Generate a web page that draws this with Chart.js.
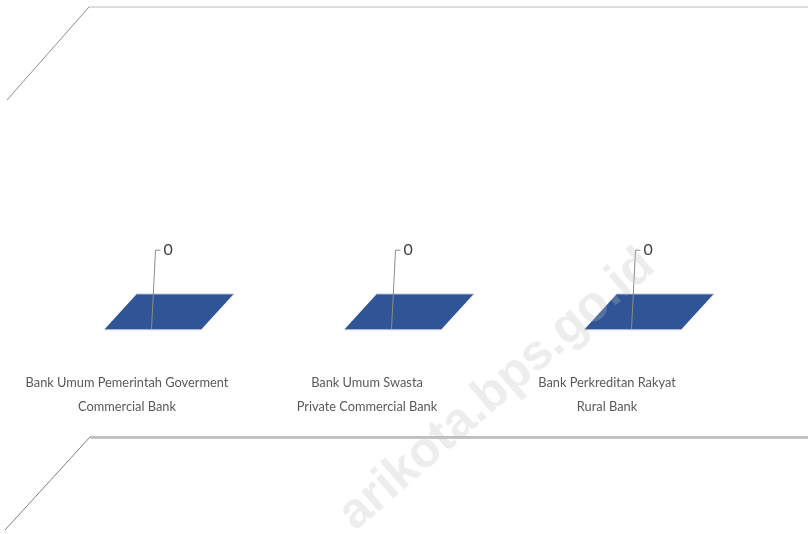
<!DOCTYPE html>
<html>
<head>
<meta charset="utf-8">
<script src="https://cdn.jsdelivr.net/npm/chart.js@4.4.1/dist/chart.umd.min.js"></script>
<style>
  html, body { margin: 0; padding: 0; background: #fff; }
  #wrap { width: 808px; height: 534px; position: relative; }
</style>
</head>
<body>
<div id="wrap"><canvas id="bankChart"></canvas></div>
<script>
// Bank counts by type - all zero in the source table
const categories = [
    ['Bank Umum Pemerintah Goverment', 'Commercial Bank'],
    ['Bank Umum Swasta', 'Private Commercial Bank'],
    ['Bank Perkreditan Rakyat', 'Rural Bank']
];
const bankCounts = [0, 0, 0];
const watermarkText = 'arikota.bps.go.id';

const FONT = 'Lato, "Open Sans", sans-serif';
const BAR_COLOR = '#2F5597';
const DEPTH = { dx: 32, dy: -35 };   // 3D depth of each bar
const SHIFT = 26;                     // bars sit a bit right of the labels

// draws the fake 3D look: frame, boxes, leader labels, watermark
const threeD = {
    id: 'threeD',
    beforeDatasetsDraw(chart) {
        const ctx = chart.ctx;
        const area = chart.chartArea;
        ctx.save();
        // back wall top edge
        ctx.strokeStyle = '#8c8c8c';
        ctx.lineWidth = 1;
        ctx.beginPath();
        ctx.moveTo(area.left, area.top + 93);
        ctx.lineTo(area.left + 82, area.top);
        ctx.stroke();
        ctx.strokeStyle = '#dcdcdc';
        ctx.lineWidth = 2;
        ctx.beginPath();
        ctx.moveTo(area.left + 82, area.top);
        ctx.lineTo(chart.width, area.top);
        ctx.stroke();
        // floor back edge
        const floorY = 437;
        ctx.strokeStyle = '#7f7f7f';
        ctx.lineWidth = 1;
        ctx.beginPath();
        ctx.moveTo(area.left - 2, floorY + 93);
        ctx.lineTo(area.left + 83, floorY);
        ctx.lineTo(chart.width, floorY);
        ctx.stroke();
        ctx.strokeStyle = '#c8c8c8';
        ctx.beginPath();
        ctx.moveTo(area.left + 84, floorY + 1.5);
        ctx.lineTo(chart.width, floorY + 1.5);
        ctx.stroke();
        ctx.restore();
    },
    afterDatasetsDraw(chart) {
        const ctx = chart.ctx;
        const meta = chart.getDatasetMeta(0);
        const values = chart.data.datasets[0].data;
        ctx.save();
        meta.data.forEach((bar, i) => {
            const p = bar.getProps(['x', 'y', 'base', 'width'], true);
            const left = p.x - p.width / 2 + SHIFT;
            const right = left + p.width;
            const top = Math.min(p.y, p.base);
            const bottom = Math.max(p.y, p.base);
            // front face
            ctx.fillStyle = BAR_COLOR;
            ctx.fillRect(left, top, p.width, bottom - top);
            // side face
            ctx.fillStyle = '#24447c';
            ctx.beginPath();
            ctx.moveTo(right, bottom);
            ctx.lineTo(right + DEPTH.dx, bottom + DEPTH.dy);
            ctx.lineTo(right + DEPTH.dx, top + DEPTH.dy);
            ctx.lineTo(right, top);
            ctx.closePath();
            ctx.fill();
            // top face
            ctx.fillStyle = BAR_COLOR;
            ctx.beginPath();
            ctx.moveTo(left, top);
            ctx.lineTo(right, top);
            ctx.lineTo(right + DEPTH.dx, top + DEPTH.dy);
            ctx.lineTo(left + DEPTH.dx, top + DEPTH.dy);
            ctx.closePath();
            ctx.fill();
            ctx.strokeStyle = 'rgba(160,176,205,0.9)';
            ctx.lineWidth = 1;
            ctx.beginPath();
            ctx.moveTo(left, top + 0.5);
            ctx.lineTo(right, top + 0.5);
            ctx.stroke();
            ctx.strokeStyle = 'rgba(120,140,180,0.8)';
            ctx.beginPath();
            ctx.moveTo(left + DEPTH.dx, top + DEPTH.dy);
            ctx.lineTo(right + DEPTH.dx, top + DEPTH.dy);
            ctx.stroke();

            // leader line + value label
            const lx = left + 47;
            const ly = top - 79;
            ctx.strokeStyle = '#8c8c8c';
            ctx.lineWidth = 1;
            ctx.beginPath();
            ctx.moveTo(lx, top);
            ctx.lineTo(lx + 4, ly);
            ctx.lineTo(lx + 9, ly);
            ctx.stroke();
            ctx.fillStyle = '#404040';
            ctx.font = '16px ' + FONT;
            ctx.textAlign = 'left';
            ctx.textBaseline = 'middle';
            ctx.fillText(String(values[i]), lx + 12, ly);
        });
        ctx.restore();
    },
    afterDraw(chart) {
        const ctx = chart.ctx;
        ctx.save();
        ctx.translate(497, 390);
        ctx.rotate(-41 * Math.PI / 180);
        ctx.font = 'bold 50px "Liberation Sans", sans-serif';
        ctx.fillStyle = 'rgba(190,190,190,0.28)';
        ctx.textAlign = 'center';
        ctx.textBaseline = 'middle';
        ctx.fillText(watermarkText, 0, 0);
        ctx.restore();
    }
};

new Chart(document.getElementById('bankChart').getContext('2d'), {
    type: 'bar',
    data: {
        labels: categories,
        datasets: [{
            label: 'Jumlah Bank',
            data: bankCounts,
            backgroundColor: 'rgba(0,0,0,0)',
            borderWidth: 0,
            categoryPercentage: 1,
            barPercentage: 0.404
        }]
    },
    options: {
        responsive: true,
        maintainAspectRatio: false,
        animation: false,
        layout: {
            padding: { left: 7, right: 81, top: 7, bottom: 109 }
        },
        plugins: {
            legend: { display: false },
            tooltip: { enabled: false }
        },
        scales: {
            x: {
                grid: { display: false, drawTicks: false },
                border: { display: false },
                ticks: {
                    padding: 6,
                    autoSkip: false,
                    maxRotation: 0,
                    minRotation: 0,
                    color: '#595959',
                    font: { family: FONT, size: 12.8, lineHeight: '24px' }
                }
            },
            y: {
                display: false,
                min: -1,
                max: 9
            }
        }
    },
    plugins: [threeD]
});
</script>
</body>
</html>
